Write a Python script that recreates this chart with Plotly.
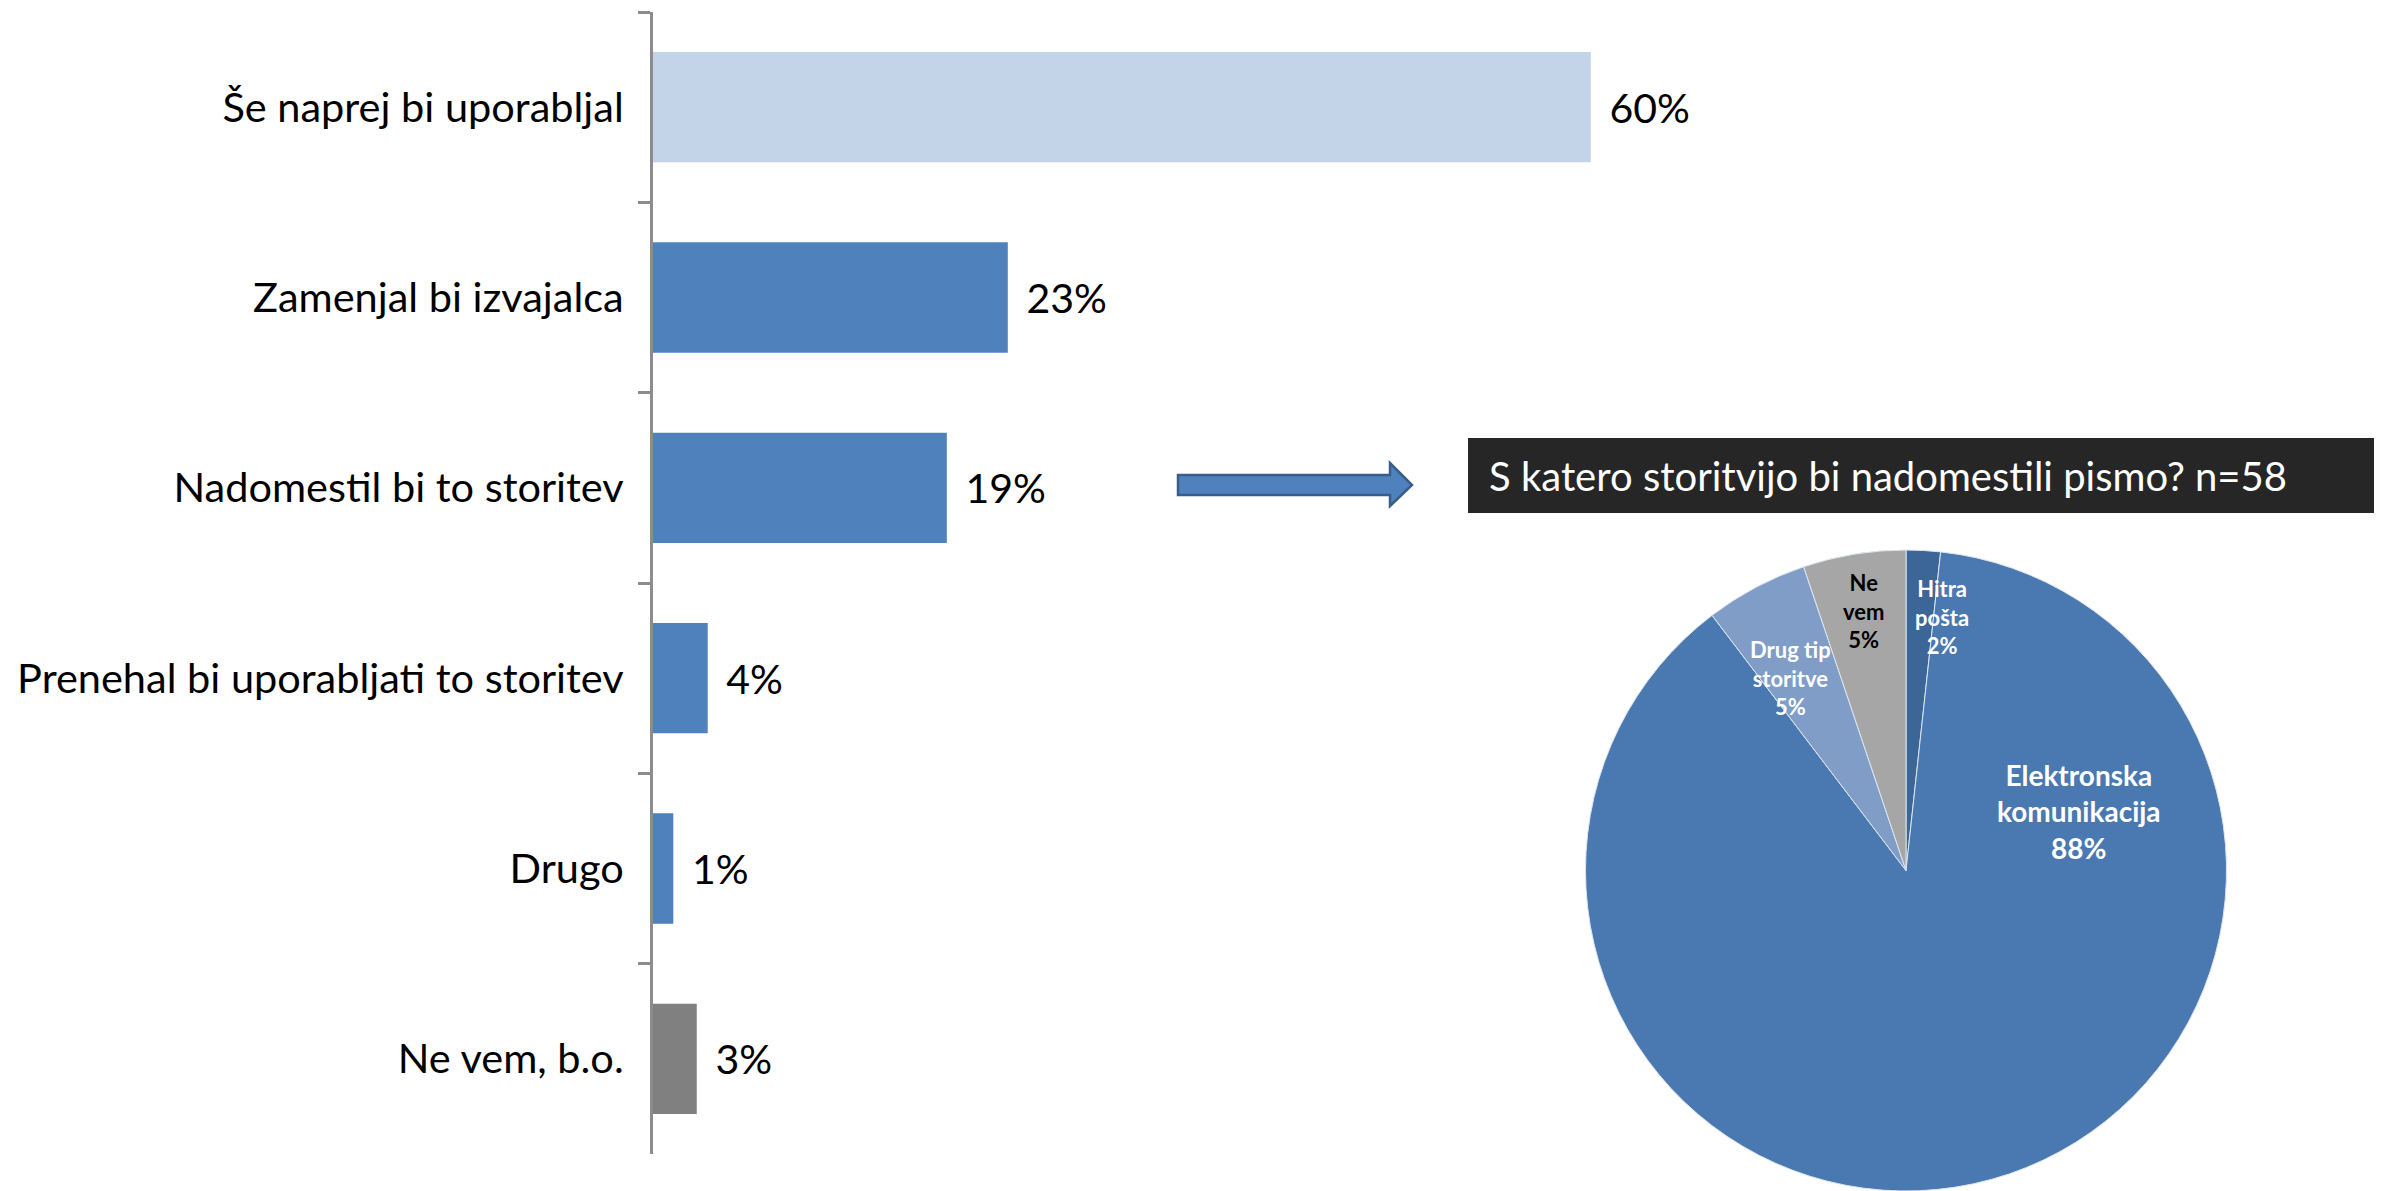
import plotly.graph_objects as go
import math

# ---- data ----
categories = ["Še naprej bi uporabljal", "Zamenjal bi izvajalca", "Nadomestil bi to storitev",
              "Prenehal bi uporabljati to storitev", "Drugo", "Ne vem, b.o."]
values = [60.0, 22.7, 18.8, 3.5, 1.3, 2.8]
value_labels = ["60%", "23%", "19%", "4%", "1%", "3%"]
bar_colors = ["#C3D3E8", "#4F81BD", "#4F81BD", "#4F81BD", "#4F81BD", "#808080"]

pie_title = "S katero storitvijo bi nadomestili pismo? n=58"
pie_labels = ["Hitra pošta", "Elektronska komunikacija", "Drug tip storitve", "Ne vem"]
pie_text = ["Hitra<br>pošta", "Elektronska<br>komunikacija", "Drug tip<br>storitve", "Ne<br>vem"]
pie_counts = [1, 51, 3, 3]
pie_colors = ["#3C6598", "#4A78B0", "#809DC8", "#A6A6A6"]

# ---- layout constants ----
W, H = 2391, 1191
FONT = "Lato, Liberation Sans, sans-serif"

def px_x(p):
    return p / W

def px_y(p):
    return 1 - p / H

fig = go.Figure()

fig.add_trace(go.Bar(
    y=categories, x=values, orientation="h",
    marker=dict(color=bar_colors, line=dict(width=0)),
    text=["\u00a0\u2009" + t for t in value_labels], textposition="outside",
    textfont=dict(family=FONT, size=41, color="#000000"),
    cliponaxis=False, hoverinfo="skip", showlegend=False,
))

pie_dom_x = [px_x(1906 - 324), px_x(1906 + 324)]
pie_dom_y = [0.0, px_y(550)]
fig.add_trace(go.Pie(
    labels=pie_labels, values=pie_counts, sort=False, direction="clockwise", rotation=0,
    marker=dict(colors=pie_colors, line=dict(color="#DDE6F0", width=1)),
    textinfo="none", hoverinfo="label+percent", showlegend=False,
    domain=dict(x=pie_dom_x, y=pie_dom_y),
))

# pie label annotations (placed by angle/radius relative to pie geometry)
dom_w = (pie_dom_x[1] - pie_dom_x[0]) * W
dom_h = (pie_dom_y[1] - pie_dom_y[0]) * H
R = min(dom_w, dom_h) / 2
cx = (pie_dom_x[0] + pie_dom_x[1]) / 2 * W
cy = H - (pie_dom_y[0] + pie_dom_y[1]) / 2 * H
total = sum(pie_counts)
label_pos = [(8.0, 0.80, 22, "white"), (71.0, 0.57, 28, "white"),
             (-31.0, 0.70, 22, "white"), (-9.2, 0.82, 22, "black")]
annotations = []
for txt, cnt, (ang, rf, fs, col) in zip(pie_text, pie_counts, label_pos):
    pct = round(100 * cnt / total)
    lx = cx + rf * R * math.sin(math.radians(ang))
    ly = cy - rf * R * math.cos(math.radians(ang))
    annotations.append(dict(
        x=px_x(lx), y=px_y(ly), xref="paper", yref="paper",
        text=f"<b>{txt}<br>{pct}%</b>", showarrow=False,
        font=dict(family=FONT, size=fs, color=col), align="center",
        xanchor="center", yanchor="middle",
    ))

# title box text
annotations.append(dict(
    x=px_x(1487), y=px_y(476), xref="paper", yref="paper",
    text=pie_title, showarrow=False, xanchor="left", yanchor="middle",
    font=dict(family=FONT, size=40, color="white"),
))

shapes = [
    dict(type="rect", xref="paper", yref="paper",
         x0=px_x(1468), x1=px_x(2374), y0=px_y(513), y1=px_y(438),
         fillcolor="#262626", line=dict(width=0), layer="below"),
]
# arrow
ax0, ax1, ax2 = 1178, 1390, 1412
sy0, sy1, hy0, hy1, my = 475, 495, 463, 506, 485
path = (f"M {px_x(ax0)},{px_y(sy0)} L {px_x(ax1)},{px_y(sy0)} L {px_x(ax1)},{px_y(hy0)} "
        f"L {px_x(ax2)},{px_y(my)} L {px_x(ax1)},{px_y(hy1)} L {px_x(ax1)},{px_y(sy1)} "
        f"L {px_x(ax0)},{px_y(sy1)} Z")
shapes.append(dict(type="path", xref="paper", yref="paper", path=path,
                   fillcolor="#4F81BD", line=dict(color="#385D8A", width=2.5)))

fig.update_layout(
    width=W, height=H, margin=dict(l=0, r=0, t=0, b=0),
    paper_bgcolor="white", plot_bgcolor="white",
    bargap=0.42,
    font=dict(family=FONT, size=40, color="#000000"),
    xaxis=dict(domain=[px_x(653), px_x(653 + 1563)], range=[0, 100],
               showgrid=False, zeroline=False, showline=False,
               showticklabels=False, ticks="", fixedrange=True),
    yaxis=dict(domain=[px_y(1154), px_y(12)], autorange="reversed", type="category",
               showgrid=False, zeroline=False, showline=True,
               linecolor="#8C8C8C", linewidth=3,
               ticks="outside", ticklen=12, tickwidth=3, tickcolor="#8C8C8C",
               tickson="boundaries", automargin=False, ticklabelstandoff=18,
               tickfont=dict(family=FONT, size=41.5, color="#000000")),
    annotations=annotations, shapes=shapes,
)

fig.write_html("out.html")
